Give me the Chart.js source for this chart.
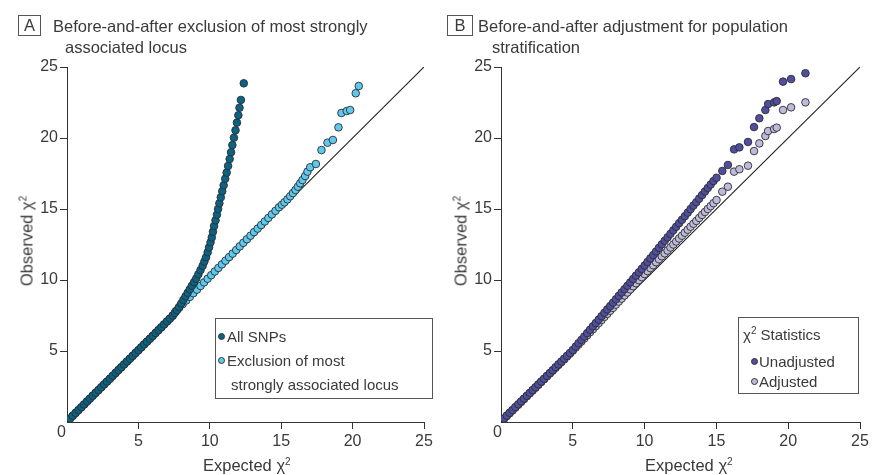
<!DOCTYPE html>
<html>
  <head>
    <meta charset="utf-8" />
    <title>QQ plots</title>
    <script src="https://cdn.jsdelivr.net/npm/chart.js@4/dist/chart.umd.min.js"></script>
    <style>
      body { margin: 0; background: #fff; }
      .page {
        position: relative; width: 875px; height: 475px; overflow: hidden;
        font-family: "Liberation Sans", Arial, sans-serif; color: #3a3a3a;
      }
      canvas { position: absolute; top: 0; }
      .t { position: absolute; white-space: nowrap; font-size: 16.5px; line-height: 20px; }
      .lt { position: absolute; white-space: nowrap; font-size: 15px; line-height: 18px; }
      .tag {
        position: absolute; border: 1px solid #555; box-sizing: border-box;
        font-size: 16.5px; line-height: 18px; text-align: center;
      }
      .box { position: absolute; border: 1px solid #555; box-sizing: border-box; }
      .dot {
        position: absolute; width: 7px; height: 7px; border-radius: 50%;
        border: 0.8px solid #333; box-sizing: border-box;
      }
      .ytitle { position: absolute; white-space: nowrap; font-size: 16.5px; transform: translate(-50%, -50%) rotate(-90deg); }
      sup { font-size: 10px; vertical-align: 6px; line-height: 0; }
    </style>
  </head>

  <body>
    <div class="page">
      <canvas id="chartA" width="440" height="475" style="left:0"></canvas>
      <canvas id="chartB" width="435" height="475" style="left:440px"></canvas>

      <!-- A 标题 -->
      <div class="tag" style="left:18px;top:15px;width:23px;height:21px;">A</div>
      <div class="t" style="left:53px;top:16px;">Before-and-after exclusion of most strongly</div>
      <div class="t" style="left:65px;top:37px;">associated locus</div>

      <!-- B 标题 -->
      <div class="tag" style="left:447px;top:15px;width:26px;height:21px;">B</div>
      <div class="t" style="left:478px;top:16px;">Before-and-after adjustment for population</div>
      <div class="t" style="left:492px;top:37px;">stratification</div>

      <!-- axis titles -->
      <div class="t" style="left:203px;top:455px;">Expected χ<sup>2</sup></div>
      <div class="t" style="left:645px;top:455px;">Expected χ<sup>2</sup></div>
      <div class="ytitle" style="left:27px;top:241px;">Observed χ<sup>2</sup></div>
      <div class="ytitle" style="left:461px;top:241px;">Observed χ<sup>2</sup></div>
      <div class="t" style="left:57px;top:422px;font-size:16px;">0</div>
      <div class="t" style="left:493px;top:422px;font-size:16px;">0</div>

      <!-- legend A -->
      <div class="box" style="left:215px;top:318px;width:218px;height:81px;"></div>
      <div class="dot" style="left:218px;top:333px;background:#0a6385;"></div>
      <div class="lt" style="left:227px;top:328px;">All SNPs</div>
      <div class="dot" style="left:218px;top:357px;background:#5ec9ef;"></div>
      <div class="lt" style="left:227px;top:352px;">Exclusion of most</div>
      <div class="lt" style="left:231px;top:376px;">strongly associated locus</div>

      <!-- legend B -->
      <div class="box" style="left:738px;top:317px;width:121px;height:77px;"></div>
      <div class="lt" style="left:743px;top:326px;">χ<sup>2</sup> Statistics</div>
      <div class="dot" style="left:751px;top:358px;background:#4f4e9f;"></div>
      <div class="lt" style="left:759px;top:353px;">Unadjusted</div>
      <div class="dot" style="left:751px;top:378px;background:#bdbadc;"></div>
      <div class="lt" style="left:759px;top:373px;">Adjusted</div>
    </div>

    <script>
      // A: all SNPs
      var snpX = [0.05, 0.2, 0.4, 0.6, 0.8, 1.0, 1.2, 1.4, 1.6, 1.8, 2.0, 2.2, 2.4, 2.6, 2.8, 3.0, 3.2, 3.4, 3.6, 3.8,
        4.0, 4.2, 4.4, 4.6, 4.8, 5.0, 5.2, 5.4, 5.6, 5.8, 6.0, 6.2, 6.4, 6.6, 6.8, 7.0, 7.2, 7.4,
        7.55, 7.7, 7.85, 8.0, 8.15, 8.3, 8.45, 8.6, 8.75, 8.9, 9.05, 9.2, 9.35, 9.5,
        9.62, 9.74, 9.85, 9.95, 10.05, 10.14, 10.22, 10.3, 10.4, 10.5, 10.58, 10.67, 10.77, 10.87, 10.97,
        11.08, 11.18, 11.28, 11.39, 11.49, 11.58, 11.69, 11.8, 11.9, 12.0, 12.08, 12.18, 12.38];
      var snpY = [0.08, 0.24, 0.44, 0.64, 0.84, 1.04, 1.24, 1.45, 1.65, 1.85, 2.05, 2.25, 2.45, 2.65, 2.85, 3.05, 3.26, 3.46, 3.66, 3.86,
        4.06, 4.26, 4.46, 4.66, 4.86, 5.06, 5.26, 5.46, 5.66, 5.86, 6.06, 6.27, 6.47, 6.67, 6.88, 7.08, 7.28, 7.5,
        7.68, 7.87, 8.1, 8.35, 8.6, 8.85, 9.1, 9.35, 9.6, 9.85, 10.1, 10.4, 10.7, 11.0,
        11.3, 11.6, 11.95, 12.3, 12.65, 13.0, 13.4, 13.8, 14.2, 14.6, 15.0, 15.4, 15.82, 16.25, 16.67,
        17.13, 17.56, 18.03, 18.52, 19.0, 19.5, 20.02, 20.54, 21.08, 21.6, 22.13, 22.68, 23.85];

      // A: exclusion of most strongly associated locus
      var exclX = [0.05, 0.2, 0.4, 0.6, 0.8, 1.0, 1.2, 1.4, 1.6, 1.8, 2.0, 2.2, 2.4, 2.6, 2.8, 3.0, 3.2, 3.4, 3.6, 3.8,
        4.0, 4.2, 4.4, 4.6, 4.8, 5.0, 5.2, 5.4, 5.6, 5.8, 6.0, 6.2, 6.4, 6.6, 6.8, 7.0, 7.2, 7.4,
        7.6, 7.85, 8.1, 8.35, 8.6, 8.85, 9.1, 9.35, 9.6, 9.85, 10.1, 10.35, 10.6, 10.85, 11.1, 11.35,
        11.6, 11.85, 12.1, 12.35, 12.6, 12.85, 13.1, 13.35, 13.6, 13.85, 14.1, 14.35, 14.6, 14.85,
        15.05, 15.23, 15.44, 15.63, 15.82, 16.0, 16.17, 16.33, 16.49, 16.68, 16.84, 17.03, 17.43,
        17.82, 18.24, 18.62, 19.01, 19.22, 19.59, 19.83, 20.22, 20.43];
      var exclY = [0.07, 0.23, 0.43, 0.63, 0.83, 1.03, 1.23, 1.43, 1.63, 1.84, 2.04, 2.24, 2.44, 2.64, 2.84, 3.04, 3.24, 3.44, 3.65, 3.85,
        4.05, 4.25, 4.45, 4.65, 4.85, 5.05, 5.25, 5.46, 5.66, 5.86, 6.06, 6.26, 6.46, 6.66, 6.86, 7.07, 7.27, 7.47,
        7.78, 8.04, 8.3, 8.56, 8.81, 9.07, 9.32, 9.58, 9.83, 10.09, 10.34, 10.6, 10.85, 11.1, 11.36, 11.61,
        11.86, 12.11, 12.37, 12.62, 12.87, 13.12, 13.37, 13.62, 13.87, 14.12, 14.37, 14.62, 14.87, 15.12,
        15.3, 15.47, 15.68, 15.9, 16.12, 16.34, 16.57, 16.81, 17.04, 17.32, 17.63, 17.94, 18.17,
        19.15, 19.67, 19.86, 20.75, 21.76, 21.9, 21.97, 23.15, 23.66];

      // B: expected quantiles shared by both series
      var expectedB = [0.05, 0.2, 0.4, 0.6, 0.8, 1.0, 1.2, 1.4, 1.6, 1.8, 2.0, 2.2, 2.4, 2.6, 2.8, 3.0, 3.2, 3.4, 3.6, 3.8,
        4.0, 4.2, 4.4, 4.6, 4.8, 5.0, 5.2, 5.4, 5.6, 5.8, 6.0, 6.2, 6.4, 6.6, 6.8, 7.0, 7.2, 7.4, 7.6, 7.8,
        8.0, 8.2, 8.4, 8.6, 8.8, 9.0, 9.2, 9.4, 9.6, 9.8, 10.0, 10.2, 10.4, 10.6, 10.8, 11.0, 11.2, 11.4, 11.6, 11.8,
        12.0, 12.2, 12.4, 12.6, 12.8, 13.0, 13.2, 13.4, 13.6, 13.8, 14.0, 14.2, 14.4, 14.6, 14.8,
        15.01, 15.41, 15.8, 16.23, 16.6, 17.2, 17.62, 17.99, 18.41, 18.6, 19.02, 19.2, 19.64, 20.2, 21.2];
      var unadjY = [0.08, 0.24, 0.45, 0.65, 0.85, 1.05, 1.25, 1.45, 1.65, 1.85, 2.05, 2.25, 2.45, 2.65, 2.85, 3.05, 3.25, 3.45, 3.65, 3.86,
        4.06, 4.26, 4.46, 4.66, 4.86, 5.07, 5.31, 5.55, 5.78, 6.02, 6.26, 6.5, 6.74, 6.97, 7.21, 7.45, 7.69, 7.93, 8.16, 8.4,
        8.64, 8.88, 9.12, 9.35, 9.59, 9.83, 10.07, 10.31, 10.54, 10.78, 11.02, 11.27, 11.52, 11.76, 12.01, 12.26, 12.51, 12.76, 13.0, 13.25,
        13.5, 13.75, 14.0, 14.24, 14.49, 14.74, 14.99, 15.24, 15.48, 15.73, 15.98, 16.23, 16.48, 16.72, 16.97,
        17.2, 17.68, 18.1, 19.2, 19.34, 19.72, 20.77, 21.39, 21.97, 22.39, 22.51, 22.6, 23.97, 24.15, 24.56];
      var adjY = [0.06, 0.21, 0.41, 0.61, 0.81, 1.01, 1.21, 1.41, 1.61, 1.81, 2.01, 2.21, 2.41, 2.61, 2.81, 3.01, 3.21, 3.41, 3.61, 3.81,
        4.01, 4.21, 4.41, 4.61, 4.81, 5.02, 5.24, 5.45, 5.67, 5.88, 6.1, 6.32, 6.53, 6.75, 6.96, 7.18, 7.4, 7.61, 7.83, 8.04,
        8.26, 8.48, 8.69, 8.91, 9.12, 9.34, 9.56, 9.77, 9.99, 10.2, 10.42, 10.63, 10.84, 11.04, 11.25, 11.46, 11.67, 11.88, 12.08, 12.29,
        12.5, 12.71, 12.92, 13.12, 13.33, 13.54, 13.75, 13.96, 14.16, 14.37, 14.58, 14.79, 15.0, 15.2, 15.41,
        15.63, 16.22, 16.57, 17.63, 17.8, 18.05, 19.08, 19.62, 20.14, 20.49, 20.63, 20.73, 21.97, 22.16, 22.51];

      var refLine = [0, 25];
      var axisTicks = [0, 5, 10, 15, 20, 25];

      function zip(xs, ys) {
        var out = [];
        for (var i = 0; i < xs.length; i++) out.push({ x: xs[i], y: ys[i] });
        return out;
      }

      function pointSet(label, data, color) {
        return {
          label: label, data: data, backgroundColor: color,
          borderColor: "#2e2e2e", borderWidth: 0.9, pointRadius: 3.8,
        };
      }

      function axis(fitKey, fitSize) {
        return {
          type: "linear", min: axisTicks[0], max: axisTicks[axisTicks.length - 1],
          afterBuildTicks: function (s) { s.ticks = axisTicks.map(function (v) { return { value: v }; }); },
          afterFit: function (s) { s[fitKey] = fitSize; },
          border: { display: true, color: "#333", width: 1 },
          grid: {
            drawOnChartArea: false, drawTicks: true, tickLength: 7, tickWidth: 1,
            tickColor: function (c) { return c.tick && c.tick.value === 0 ? "rgba(0,0,0,0)" : "#333"; },
          },
          ticks: {
            padding: fitKey == "height" ? 3 : 2, color: "#3a3a3a",
            font: { family: "Liberation Sans", size: 16 },
            callback: function (v) { return v === 0 ? "" : v; },
          },
        };
      }

      function makeChart(id, sets, leftW, rightPad) {
        sets.push({
          type: "line", data: zip(refLine, refLine), borderColor: "#222",
          borderWidth: 1.1, pointRadius: 0, fill: false,
        });
        return new Chart(document.getElementById(id), {
          type: "scatter",
          data: { datasets: sets },
          options: {
            responsive: false, animation: false, events: [],
            layout: { padding: { left: 0, top: 67, right: rightPad, bottom: 0 } },
            plugins: { legend: { display: false }, tooltip: { enabled: false } },
            scales: { x: axis("height", 53), y: axis("width", leftW) },
          },
        });
      }

      makeChart("chartA", [
        pointSet("All SNPs", zip(snpX, snpY), "#0a6385"),
        pointSet("Exclusion of most strongly associated locus", zip(exclX, exclY), "#5ec9ef"),
      ], 67, 16);

      makeChart("chartB", [
        pointSet("Unadjusted", zip(expectedB, unadjY), "#4f4e9f"),
        pointSet("Adjusted", zip(expectedB, adjY), "#bdbadc"),
      ], 61, 15);
    </script>
  </body>
</html>
